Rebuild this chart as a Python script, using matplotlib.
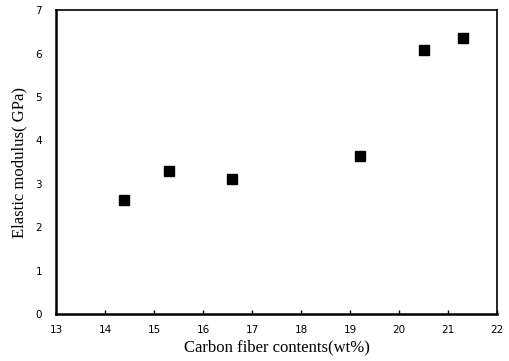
import numpy as np
import matplotlib.pyplot as plt

carbon = [14.39, 15.31, 16.59, 19.21, 20.50, 21.30]
modulus = [2.62, 3.29, 3.11, 3.64, 6.08, 6.36]

fig = plt.figure(figsize=(5.10, 3.61), dpi=100)
ax = fig.add_axes([0.110, 0.130, 0.865, 0.842])

ax.plot(carbon, modulus, "s", color="black", markersize=6.5, linestyle="none")

ax.set_xlim(13, 22)
ax.set_ylim(0, 7)
ax.set_xticks(np.arange(13, 23, 1))
ax.set_yticks(np.arange(0, 8, 1))
ax.tick_params(axis="x", direction="in", length=3, width=1, labelsize=7.5, pad=8)
ax.tick_params(axis="y", length=0, labelsize=7.5, pad=10)

for side in ["left", "bottom"]:
    ax.spines[side].set_linewidth(1.8)
for side in ["top", "right"]:
    ax.spines[side].set_linewidth(1.2)

ax.set_xlabel("Carbon fiber contents(wt%)", family="Liberation Serif", fontsize=12, labelpad=3)
ax.set_ylabel("Elastic modulus( GPa)", family="Liberation Serif", fontsize=12, labelpad=6)

plt.savefig("out.png", dpi=100)
